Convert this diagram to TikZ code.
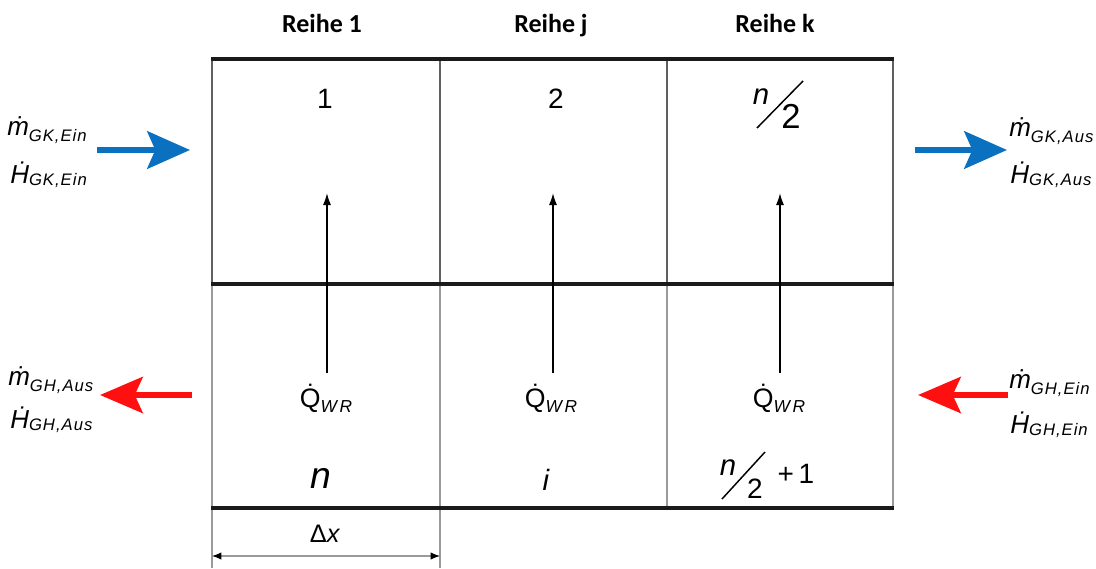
\documentclass[tikz,border=0pt]{standalone}
\usepackage{fontspec}
\setmainfont{Liberation Sans}
\newfontfamily\hdrfont{Carlito}
\usetikzlibrary{arrows.meta}
\definecolor{flowblue}{HTML}{0A70C0}
\definecolor{flowred}{HTML}{FF1010}
\definecolor{gridtop}{HTML}{606060}
\definecolor{gridbot}{HTML}{9A9A9A}
\definecolor{thickline}{HTML}{1A1A1A}
\newcommand\subm[1]{\raisebox{-5pt}{\fontsize{12.5}{13}\selectfont\itshape\addfontfeatures{LetterSpace=6}#1}}
\newcommand\subh[1]{\raisebox{-2pt}{\fontsize{12.5}{13}\selectfont\itshape\addfontfeatures{LetterSpace=6}#1}}
\newcommand\subq[1]{\raisebox{-4pt}{\fontsize{13}{14}\selectfont\itshape\addfontfeatures{LetterSpace=15}#1}}
\begin{document}
\begin{tikzpicture}[x=0.75pt,y=-0.75pt,
  hdr/.style={anchor=base,inner sep=0pt,font=\hdrfont\bfseries\fontsize{19.5}{21}\selectfont},
  num/.style={anchor=base,inner sep=0pt,font=\fontsize{21}{22}\selectfont},
  flowlbl/.style={anchor=base west,inner sep=0pt,font=\fontsize{19.5}{20}\selectfont\itshape},
  qlbl/.style={anchor=base,inner sep=0pt,font=\fontsize{20}{22}\selectfont},
  thick line/.style={line width=3pt,color=thickline},
  grid top/.style={line width=1.5pt,color=gridtop},
  grid bot/.style={line width=1.3pt,color=gridbot},
  heat arrow/.style={line width=1.2pt,black,-{Latex[length=9pt,width=6pt]}},
  blue flow/.style={line width=4.5pt,flowblue,-{Stealth[length=32pt,width=28pt,inset=6pt]}},
  red flow/.style={line width=4.5pt,flowred,-{Stealth[length=32pt,width=27pt,inset=6pt]}},
  dim line/.style={line width=0.8pt,gridbot,{Latex[length=7pt,width=5.5pt,black]}-{Latex[length=7pt,width=5.5pt,black]}},
  frac slash/.style={line width=1.1pt,black}]
\useasboundingbox (0,0) rectangle (1096,568);
% grid
\draw[grid top] (212,59) -- (212,284);
\draw[grid top] (440,59) -- (440,284);
\draw[grid top] (667,59) -- (667,284);
\draw[grid top] (893,59) -- (893,284);
\draw[grid bot] (212,284) -- (212,568);
\draw[grid bot] (440,284) -- (440,568);
\draw[grid bot] (667,284) -- (667,508);
\draw[grid bot] (893,284) -- (893,508);
\draw[thick line] (211,59) -- (894,59);
\draw[thick line] (211,284) -- (894,284);
\draw[thick line] (211,508) -- (894,508);
% headers
\node[hdr] (h1) at (322,32) {Reihe 1};
\node[hdr] (hj) at (551,32) {Reihe j};
\node[hdr] (hk) at (775,32) {Reihe k};
% top numbers
\node[num] (c1) at (325,108) {1};
\node[num] (c2) at (556,108) {2};
\node[anchor=base,inner sep=0pt,font=\fontsize{22}{24}\selectfont\itshape] (c3n) at (761,104) {n};
\node[anchor=base,inner sep=0pt,font=\fontsize{26}{28}\selectfont] (c3d) at (791,128) {2};
\draw[frac slash] (757,128) -- (803,81);
% heat arrows
\coordinate (qa1) at (327,373); \coordinate (qt1) at (327,193);
\coordinate (qa2) at (553,373); \coordinate (qt2) at (553,193);
\coordinate (qa3) at (780,373); \coordinate (qt3) at (780,193);
\draw[heat arrow] (qa1) -- (qt1);
\draw[heat arrow] (qa2) -- (qt2);
\draw[heat arrow] (qa3) -- (qt3);
\node[qlbl] (q1) at (326,407) {Q̇\subq{WR}};
\node[qlbl] (q2) at (551,407) {Q̇\subq{WR}};
\node[qlbl] (q3) at (779,407) {Q̇\subq{WR}};
% bottom numbers
\node[anchor=base,inner sep=0pt,font=\fontsize{28}{30}\selectfont\itshape] (b1) at (321,488) {n};
\node[anchor=base,inner sep=0pt,font=\fontsize{22}{24}\selectfont\itshape] (bj) at (546,490) {i};
\node[anchor=base,inner sep=0pt,font=\fontsize{22}{24}\selectfont\itshape] (bkn) at (728,475) {n};
\node[anchor=base,inner sep=0pt,font=\fontsize{21}{22}\selectfont] (bkd) at (755,498) {2};
\draw[frac slash] (722,499) -- (765,452);
\node[anchor=base,inner sep=0pt,font=\fontsize{21}{22}\selectfont] (bkp) at (796,483) {+\,1};
% dimension
\node[anchor=base,inner sep=0pt,font=\fontsize{19}{20}\selectfont] (dx) at (325,542) {Δ\textit{x}};
\coordinate (dl) at (212,556); \coordinate (dr) at (440,556);
\draw[dim line] (dl) -- (dr);
% flows
\coordinate (gki0) at (97,150); \coordinate (gki1) at (190,150);
\coordinate (gko0) at (915,150); \coordinate (gko1) at (1007,150);
\coordinate (ghi0) at (1008,395); \coordinate (ghi1) at (918,395);
\coordinate (gho0) at (192,395); \coordinate (gho1) at (100,395);
\draw[blue flow] (gki0) -- (gki1);
\draw[blue flow] (gko0) -- (gko1);
\draw[red flow] (ghi0) -- (ghi1);
\draw[red flow] (gho0) -- (gho1);
% flow labels
\node[flowlbl] (mgkin) at (7,135) {ṁ\subm{GK,Ein}};
\node[flowlbl] (hgkin) at (10,183) {Ḣ\subh{GK,Ein}};
\node[flowlbl] (mgkout) at (1009,136) {ṁ\subm{GK,Aus}};
\node[flowlbl] (hgkout) at (1010,183) {Ḣ\subh{GK,Aus}};
\node[flowlbl] (mghout) at (8,385) {ṁ\subm{GH,Aus}};
\node[flowlbl] (hghout) at (10,428) {Ḣ\subh{GH,Aus}};
\node[flowlbl] (mghin) at (1009,388) {ṁ\subm{GH,Ein}};
\node[flowlbl] (hghin) at (1010,433) {Ḣ\subh{GH,Ein}};
\end{tikzpicture}
\end{document}
